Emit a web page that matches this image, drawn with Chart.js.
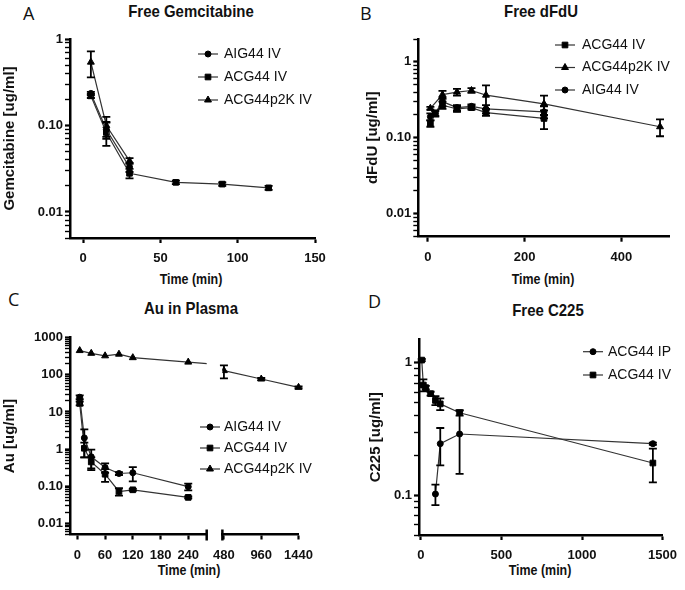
<!DOCTYPE html>
<html>
<head>
<meta charset="utf-8">
<script src="https://cdn.jsdelivr.net/npm/chart.js@4.4.1/dist/chart.umd.min.js"></script>
<style>
	body { margin: 0; background: #fff; }
	#figura { position: relative; width: 685px; height: 590px; overflow: hidden; background: #fff; }
	#figura canvas { position: absolute; }
	.letra { position: absolute; font-family: "Open Sans", sans-serif; font-size: 18px; line-height: 1; color: #111; }
	.titulo { position: absolute; width: 240px; margin-left: -120px; text-align: center; line-height: 1; color: #111;
		font-family: "Liberation Sans", Arial, sans-serif; font-weight: bold; font-size: 17px; transform: scaleX(0.88); }
	.titulo.eixo { font-size: 15px; transform: scaleX(0.83); }
</style>
</head>
<body>
<div id="figura">
	<div class="letra" style="left:23px;top:4px">A</div>
	<div class="letra" style="left:360px;top:4px">B</div>
	<div class="letra" style="left:8px;top:290px">C</div>
	<div class="letra" style="left:368px;top:292px">D</div>

	<div class="titulo" style="left:191px;top:3px">Free Gemcitabine</div>
	<div class="titulo" style="left:541px;top:3px">Free dFdU</div>
	<div class="titulo" style="left:191px;top:300px">Au in Plasma</div>
	<div class="titulo" style="left:548px;top:302px">Free C225</div>

	<div class="titulo eixo" style="left:191px;top:271px">Time (min)</div>
	<div class="titulo eixo" style="left:543px;top:271px">Time (min)</div>
	<div class="titulo eixo" style="left:189px;top:562px">Time (min)</div>
	<div class="titulo eixo" style="left:540px;top:562px">Time (min)</div>

	<canvas id="graficoGemcitabina" width="340" height="292" style="left:0;top:0"></canvas>
	<canvas id="graficoDfdu" width="345" height="292" style="left:340px;top:0"></canvas>
	<canvas id="graficoAuInicio" width="340" height="300" style="left:0;top:290px"></canvas>
	<canvas id="graficoAuFim" width="116" height="300" style="left:205px;top:290px"></canvas>
	<canvas id="graficoC225" width="345" height="300" style="left:340px;top:290px"></canvas>
</div>

<script>
// A - gemcitabina livre
var tempoGemCurto = [5, 15, 30];
var tempoGemACG = [5, 15, 30, 60, 90, 120];
var gemAIG = [0.235, 0.09, 0.033];
var gemAIGdp = [0.01, 0.02, 0.004];
var gemACG = [0.22, 0.083, 0.028, 0.022, 0.021, 0.019];
var gemACGdp = [0.012, 0.025, 0.0035, 0.001, 0.001, 0.001];
var gemP2K = [0.54, 0.1, 0.039];
var gemP2Kdp = [0.18, 0.026, 0.003];
var ticksTempoA = [0, 50, 100, 150];
var decadasA = [0.01, 0.1, 1];
var rotulosDecadasA = ['0.01', '0.10', '1'];

// B - dFdU livre
var tempoDfdu = [5, 15, 30, 60, 90, 120, 240];
var tempoDfduP2K = [5, 30, 60, 90, 120, 240, 480];
var dfduACG = [0.155, 0.21, 0.27, 0.24, 0.25, 0.215, 0.18];
var dfduACGdp = [0.015, 0.015, 0.03, 0.02, 0.015, 0.02, 0.05];
var dfduP2K = [0.245, 0.37, 0.40, 0.42, 0.365, 0.28, 0.14];
var dfduP2Kdp = [0.01, 0.045, 0.04, 0.03, 0.125, 0.08, 0.035];
var dfduAIG = [0.19, 0.21, 0.30, 0.25, 0.26, 0.24, 0.22];
var dfduAIGdp = [0.02, 0.02, 0.04, 0.02, 0.015, 0.03, 0.04];
var ticksTempoB = [0, 200, 400];
var decadasB = [0.01, 0.1, 1];
var rotulosDecadasB = ['0.01', '0.10', '1'];

// C - Au no plasma (eixo x quebrado)
var tempoAu = [5, 15, 30, 60, 90, 120, 240];
var tempoAuP2K = [5, 30, 60, 90, 120, 240, 480, 960, 1440];
var auAIG = [25, 2.0, 0.62, 0.32, 0.22, 0.23, 0.097];
var auAIGdp = [3, 1.4, 0.35, 0.09, 0.02, 0.095, 0.02];
var auACG = [17, 1.05, 0.45, 0.21, 0.072, 0.08, 0.05];
var auACGdp = [2, 0.45, 0.15, 0.08, 0.016, 0.005, 0.003];
var auP2K = [450, 380, 325, 360, 290, 220, 130, 77, 46];
var auP2Kdp = [0, 0, 0, 0, 0, 0, 50, 5, 3];
var ticksTempoC1 = [0, 60, 120, 180, 240];
var ticksTempoC2 = [480, 960, 1440];
var decadasC = [0.01, 0.1, 1, 10, 100, 1000];
var rotulosDecadasC = ['0.01', '0.10', '1', '10', '100', '1000'];

// D - C225 livre
var tempoC225IP = [90, 120, 240, 1440];
var tempoC225IV = [5, 15, 30, 60, 90, 120, 240, 1440];
var c225IP = [0.102, 0.245, 0.29, 0.245];
var c225IPdp = [0.018, 0.077, 0.145, 0.005];
var c225IV = [1.05, 0.68, 0.65, 0.585, 0.52, 0.49, 0.42, 0.175];
var c225IVdp = [0.02, 0.07, 0.02, 0.02, 0.04, 0.05, 0.02, 0.05];
var ticksTempoD = [0, 500, 1000, 1500];
var decadasD = [0.1, 1];
var rotulosDecadasD = ['0.1', '1'];

var FONTE = '"Liberation Sans", Arial, sans-serif';

var Figura = Figura || {};

Figura.ehDecada = function(v) {
	var e = Math.log10(v);
	return Math.abs(e - Math.round(e)) < 1e-6;
};

Figura.desenharMarcador = function(ctx, estilo, x, y, r) {
	ctx.beginPath();
	if (estilo === 'rect') {
		var s = r * Math.SQRT1_2;
		ctx.rect(x - s, y - s, 2 * s, 2 * s);
	} else if (estilo === 'triangle') {
		ctx.moveTo(x, y - r);
		ctx.lineTo(x + r * Math.sin(2 * Math.PI / 3), y - r * Math.cos(2 * Math.PI / 3));
		ctx.lineTo(x + r * Math.sin(4 * Math.PI / 3), y - r * Math.cos(4 * Math.PI / 3));
		ctx.closePath();
	} else {
		ctx.arc(x, y, r, 0, Math.PI * 2);
	}
	ctx.fill();
	ctx.stroke();
};

// barras de erro (media +- dp) desenhadas pelas escalas do grafico
Figura.pluginBarrasErro = {
	id: 'barrasErro',
	afterDatasetsDraw: function(chart) {
		var ctx = chart.ctx;
		var area = chart.chartArea;
		ctx.save();
		ctx.beginPath();
		ctx.rect(area.left - 6, area.top - 6, area.right - area.left + 12, area.bottom - area.top + 12);
		ctx.clip();
		ctx.strokeStyle = '#000';
		ctx.lineWidth = 1.8;
		chart.data.datasets.forEach(function(ds, i) {
			if (!ds.desvios) return;
			var meta = chart.getDatasetMeta(i);
			var escX = meta.xScale, escY = meta.yScale;
			ds.data.forEach(function(p, j) {
				var dp = ds.desvios[j];
				if (!dp) return;
				var x = escX.getPixelForValue(p.x);
				var yAlto = escY.getPixelForValue(p.y + dp);
				var yBaixo = escY.getPixelForValue(Math.max(p.y - dp, escY.min));
				ctx.beginPath();
				ctx.moveTo(x, yAlto); ctx.lineTo(x, yBaixo);
				ctx.moveTo(x - 4, yAlto); ctx.lineTo(x + 4, yAlto);
				ctx.moveTo(x - 4, yBaixo); ctx.lineTo(x + 4, yBaixo);
				ctx.stroke();
			});
		});
		ctx.restore();
	}
};

// legenda dentro da area do grafico, como no original
Figura.pluginLegendaInterna = {
	id: 'legendaInterna',
	afterDraw: function(chart, args, opcoes) {
		if (!opcoes.itens || !opcoes.itens.length) return;
		var ctx = chart.ctx;
		ctx.save();
		opcoes.itens.forEach(function(indice, k) {
			var ds = chart.data.datasets[indice];
			var y = opcoes.y + k * opcoes.espaco;
			ctx.strokeStyle = '#333';
			ctx.lineWidth = 1.2;
			ctx.beginPath();
			ctx.moveTo(opcoes.x, y);
			ctx.lineTo(opcoes.x + opcoes.largura, y);
			ctx.stroke();
			ctx.fillStyle = '#000';
			ctx.strokeStyle = '#000';
			ctx.lineWidth = 1;
			Figura.desenharMarcador(ctx, ds.pointStyle, opcoes.x + opcoes.largura / 2, y, ds.pointRadius);
			ctx.fillStyle = '#111';
			ctx.font = '14px ' + FONTE;
			ctx.textBaseline = 'middle';
			ctx.fillText(ds.label, opcoes.x + opcoes.largura + opcoes.vao, y);
		});
		ctx.restore();
	}
};

// marcas da quebra do eixo x (painel C)
Figura.pluginQuebraEixo = {
	id: 'quebraEixo',
	afterDraw: function(chart, args, opcoes) {
		if (!opcoes.lado) return;
		var area = chart.chartArea;
		var x = opcoes.lado === 'direita' ? area.right : area.left;
		var ctx = chart.ctx;
		ctx.save();
		ctx.strokeStyle = '#000';
		ctx.lineWidth = 2.5;
		ctx.beginPath();
		ctx.moveTo(x, area.bottom - 5);
		ctx.lineTo(x, area.bottom + 6);
		ctx.stroke();
		ctx.restore();
	}
};

Figura.serie = function(rotulo, tempos, valores, desvios, estilo) {
	return {
		label: rotulo,
		data: tempos.map(function(t, i) { return { x: t, y: valores[i] }; }),
		desvios: desvios,
		pointStyle: estilo,
		pointRadius: estilo === 'circle' ? 3 : 4,
		borderColor: '#333',
		borderWidth: 1.2,
		pointBackgroundColor: '#000',
		pointBorderColor: '#000',
		pointBorderWidth: 1,
		tension: 0,
		fill: false
	};
};

Figura.ticksLog = function(min, max) {
	var ticks = [];
	for (var e = Math.floor(Math.log10(min)); e <= Math.ceil(Math.log10(max)); e++) {
		for (var m = 1; m < 10; m++) {
			var v = +(m * Math.pow(10, e)).toPrecision(6);
			if (v >= min * 0.999 && v <= max * 1.001) ticks.push({ value: v });
		}
	}
	return ticks;
};

Figura.eixoLog = function(min, max, decadas, rotulos, titulo, largura, recuoTitulo, visivel) {
	return {
		type: 'logarithmic',
		position: 'left',
		display: visivel !== false,
		min: min,
		max: max,
		afterBuildTicks: function(eixo) { eixo.ticks = Figura.ticksLog(min, max); },
		afterFit: function(eixo) { eixo.width = largura; },
		ticks: {
			autoSkip: false,
			padding: 2,
			color: '#111',
			font: { family: FONTE, size: 13, weight: 'bold' },
			callback: function(v) {
				for (var i = 0; i < decadas.length; i++) {
					if (Math.abs(v / decadas[i] - 1) < 1e-6) return rotulos[i];
				}
				return '';
			}
		},
		grid: {
			drawOnChartArea: false,
			drawTicks: true,
			tickLength: 5,
			tickColor: '#000',
			tickWidth: function(c) { return c.tick && Figura.ehDecada(c.tick.value) ? 2.2 : 1.4; }
		},
		border: { display: true, color: '#000', width: 2.5 },
		title: {
			display: !!titulo,
			text: titulo,
			color: '#111',
			font: { family: FONTE, size: 15, weight: 'bold' },
			padding: { top: recuoTitulo, bottom: 0 }
		}
	};
};

Figura.eixoTempo = function(min, max, marcas, altura) {
	return {
		type: 'linear',
		position: 'bottom',
		min: min,
		max: max,
		afterBuildTicks: function(eixo) { eixo.ticks = marcas.map(function(v) { return { value: v }; }); },
		afterFit: function(eixo) { eixo.height = altura; },
		ticks: {
			autoSkip: false,
			maxRotation: 0,
			padding: 8,
			color: '#111',
			font: { family: FONTE, size: 13, weight: 'bold' },
			callback: function(v) { return String(v); }
		},
		grid: { drawOnChartArea: false, drawTicks: true, tickLength: 5, tickWidth: 2.2, tickColor: '#000' },
		border: { display: true, color: '#000', width: 2.5 }
	};
};

Figura.Painel = (function() {
	function Painel(idCanvas, p) {
		this.ctx = document.getElementById(idCanvas).getContext('2d');
		this.p = p;
	}

	Painel.prototype.iniciar = function() {
		var p = this.p;
		this.grafico = new Chart(this.ctx, {
			type: 'line',
			data: { datasets: p.series },
			options: {
				responsive: false,
				animation: false,
				layout: { padding: p.margem },
				datasets: { line: { clip: p.corte } },
				plugins: {
					legend: { display: false },
					tooltip: { enabled: false },
					legendaInterna: p.legenda || { itens: [] },
					quebraEixo: { lado: p.quebra || '' }
				},
				scales: { x: p.eixoX, y: p.eixoY }
			},
			plugins: [Figura.pluginBarrasErro, Figura.pluginLegendaInterna, Figura.pluginQuebraEixo]
		});
	};

	return Painel;
})();

window.addEventListener('load', function() {
	var seriesAu = function() {
		return [
			Figura.serie('AIG44 IV', tempoAu, auAIG, auAIGdp, 'circle'),
			Figura.serie('ACG44 IV', tempoAu, auACG, auACGdp, 'rect'),
			Figura.serie('ACG44p2K IV', tempoAuP2K, auP2K, auP2Kdp, 'triangle')
		];
	};

	var paineis = [
		new Figura.Painel('graficoGemcitabina', {
			margem: { top: 39, right: 25, left: 0, bottom: 0 },
			series: [
				Figura.serie('AIG44 IV', tempoGemCurto, gemAIG, gemAIGdp, 'circle'),
				Figura.serie('ACG44 IV', tempoGemACG, gemACG, gemACGdp, 'rect'),
				Figura.serie('ACG44p2K IV', tempoGemCurto, gemP2K, gemP2Kdp, 'triangle')
			],
			eixoX: Figura.eixoTempo(-8.5, 150, ticksTempoA, 54),
			eixoY: Figura.eixoLog(0.005, 1, decadasA, rotulosDecadasA, 'Gemcitabine [ug/ml]', 70, 0.5),
			legenda: { x: 198, y: 54, espaco: 23, largura: 20, vao: 6, itens: [0, 1, 2] }
		}),
		new Figura.Painel('graficoDfdu', {
			margem: { top: 39, right: 15.3, left: 0, bottom: 0 },
			series: [
				Figura.serie('ACG44 IV', tempoDfdu, dfduACG, dfduACGdp, 'rect'),
				Figura.serie('ACG44p2K IV', tempoDfduP2K, dfduP2K, dfduP2Kdp, 'triangle'),
				Figura.serie('AIG44 IV', tempoDfdu, dfduAIG, dfduAIGdp, 'circle')
			],
			eixoX: Figura.eixoTempo(-20, 500, ticksTempoB, 55.3),
			eixoY: Figura.eixoLog(0.005, 2, decadasB, rotulosDecadasB, 'dFdU [ug/ml]', 78.3, 24),
			legenda: { x: 215, y: 45, espaco: 22.5, largura: 20, vao: 7, itens: [0, 1, 2] }
		}),
		new Figura.Painel('graficoAuInicio', {
			margem: { top: 47.7, right: 133.3, left: 0, bottom: 0 },
			series: seriesAu(),
			eixoX: Figura.eixoTempo(-16, 280, ticksTempoC1, 55.5),
			eixoY: Figura.eixoLog(0.005, 1000, decadasC, rotulosDecadasC, 'Au [ug/ml]', 70, 0.5),
			legenda: { x: 200, y: 137, espaco: 21, largura: 20, vao: 4, itens: [0, 1, 2] },
			quebra: 'direita'
		}),
		new Figura.Painel('graficoAuFim', {
			margem: { top: 47.7, right: 12.7, left: 14, bottom: 0 },
			series: seriesAu(),
			eixoX: Figura.eixoTempo(460, 1440, ticksTempoC2, 55.5),
			eixoY: Figura.eixoLog(0.005, 1000, decadasC, rotulosDecadasC, '', 0, 0, false),
			corte: { left: 0, right: 8, top: 8, bottom: 8 },
			quebra: 'esquerda'
		}),
		new Figura.Painel('graficoC225', {
			margem: { top: 49.6, right: 15.7, left: 0, bottom: 0 },
			series: [
				Figura.serie('ACG44 IP', tempoC225IP, c225IP, c225IPdp, 'circle'),
				Figura.serie('ACG44 IV', tempoC225IV, c225IV, c225IVdp, 'rect')
			],
			eixoX: Figura.eixoTempo(-12, 1500, ticksTempoD, 55),
			eixoY: Figura.eixoLog(0.05, 1.5, decadasD, rotulosDecadasD, 'C225 [ug/ml]', 79, 27),
			legenda: { x: 243, y: 61.7, espaco: 23.3, largura: 20, vao: 5, itens: [0, 1] }
		})
	];

	paineis.forEach(function(painel) { painel.iniciar(); });
});
</script>
</body>
</html>
